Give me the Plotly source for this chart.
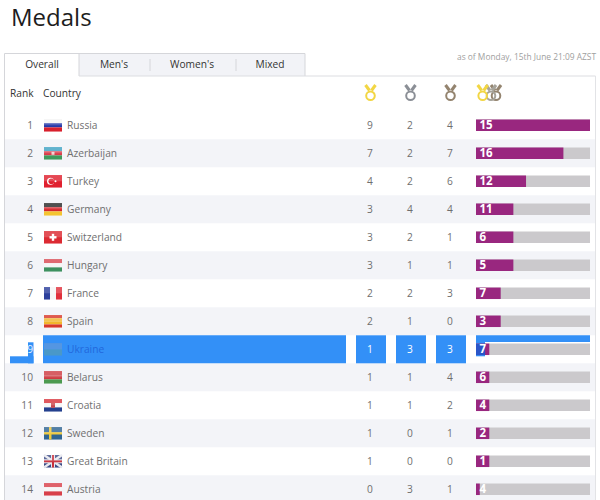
import plotly.graph_objects as go

# Table data
ranks = list(range(1, 15))
countries = ['Russia', 'Azerbaijan', 'Turkey', 'Germany', 'Switzerland', 'Hungary', 'France',
             'Spain', 'Ukraine', 'Belarus', 'Croatia', 'Sweden', 'Great Britain', 'Austria']
gold = [9, 7, 4, 3, 3, 3, 2, 2, 1, 1, 1, 1, 1, 0]
silver = [2, 2, 2, 4, 2, 1, 2, 1, 3, 1, 1, 0, 0, 3]
bronze = [4, 7, 6, 4, 1, 1, 3, 0, 3, 4, 2, 1, 0, 1]
totals = [15, 16, 12, 11, 6, 5, 7, 3, 7, 6, 4, 2, 1, 4]
bar_lengths = [9, 6.9, 3.95, 2.95, 2.95, 2.95, 1.95, 1.95, 1.05, 1.05, 1.05, 1.05, 1.05, 0.3]
bar_full = [9] * 14
selected_length = [0.72]
tabs = ['Overall', "Men's", "Women's", 'Mixed']

FONT = 'Open Sans'
TEXT = '#6f6f6f'
DARK = '#333333'
BLUE = '#3390f7'
PURPLE = '#99277f'
GREY = '#cbc9cc'
STRIPE = '#f3f4f8'
HILITE = 8  # index of the selected row
y9 = ranks[HILITE]

# flag: (direction, band colours)
flags = {
    'Russia': ('h', ['#f4f4f4', '#2438a8', '#d8202c']),
    'Azerbaijan': ('h', ['#3fa3c4', '#d93a48', '#3f9a5c']),
    'Turkey': ('h', ['#e0202e']),
    'Germany': ('h', ['#2a2a2a', '#d6242a', '#f4c430']),
    'Switzerland': ('h', ['#dc2a32']),
    'Hungary': ('h', ['#d84a54', '#f6f6f6', '#3d9160']),
    'France': ('v', ['#2c3f9c', '#f6f6f6', '#e0303c']),
    'Spain': ('h', ['#d8372a', '#f2b62c', '#f2b62c', '#d8372a']),
    'Ukraine': ('h', ['#2f7fdc', '#4a98c8']),
    'Belarus': ('h', ['#cf3b42', '#cf3b42', '#4c9a50']),
    'Croatia': ('h', ['#d8343c', '#f6f6f6', '#24408e']),
    'Sweden': ('h', ['#2f6593']),
    'Great Britain': ('h', ['#3a4a85']),
    'Austria': ('h', ['#d8404a', '#f6f6f6', '#d8404a']),
}

W, H = 600, 500
FLAG_X0, FLAG_W, FLAG_H = 44, 18, 12.5
ROW_PX = 28
ROW1_PX = 125.3
TEXT_DY = 1  # text sits a pixel lower than the row centre
shapes = []


# decoration is placed in page pixels, through paper refs so it stays under the bars
def rect(x0, x1, y0, y1, color, layer='below'):
    shapes.append(dict(type='rect', xref='paper', yref='paper', x0=x0 / W, x1=x1 / W,
                       y0=1 - y0 / H, y1=1 - y1 / H, fillcolor=color, line_width=0, layer=layer))


def line(x0, y0, x1, y1, color, width=1):
    shapes.append(dict(type='line', xref='paper', yref='paper', x0=x0 / W, x1=x1 / W,
                       y0=1 - y0 / H, y1=1 - y1 / H, line=dict(color=color, width=width), layer='below'))


def disc(x0, x1, y0, y1, fill, outline=None, width=0):
    shapes.append(dict(type='circle', xref='paper', yref='paper', x0=x0 / W, x1=x1 / W,
                       y0=1 - y0 / H, y1=1 - y1 / H, fillcolor=fill,
                       line=dict(color=outline or fill, width=width), layer='below'))


def row_px(r):
    return ROW1_PX + (r - 1) * ROW_PX


def px_rank(p):
    return 1 + (p - ROW1_PX) / ROW_PX


# row stripes and the selected row cells
for r in ranks:
    if r % 2 == 0 and r != y9:
        rect(5, 595, row_px(r) - 14, row_px(r) + 14, STRIPE)
top9, bot9 = row_px(y9) - 14, row_px(y9) + 14
for x0, x1 in [(43, 346), (356, 386), (396, 426), (436, 466)]:
    rect(x0, x1, top9, bot9, BLUE)
rect(28, 33.5, top9 + 7, bot9, BLUE)
rect(10, 33.5, bot9 - 7, bot9, BLUE)
rect(476, 590, top9, top9 + 6.7, BLUE)
rect(476, 485, top9 + 6.7, bot9 - 7, BLUE)

# table frame and tabs
rect(79, 305, 53.5, 76, '#f2f3f7')
line(4.5, 53.5, 305, 53.5, '#d5d6da')
line(305, 53.5, 305, 76, '#d5d6da')
line(4.5, 53.5, 4.5, 500, '#d5d6da')
line(79, 53.5, 79, 76, '#d5d6da')
line(79, 76, 595.5, 76, '#dcdde1')
line(595.5, 76, 595.5, 500, '#e2e3e6')
line(150, 59, 150, 71, '#d5d6da')
line(236, 59, 236, 71, '#d5d6da')

# flags
for r, name in zip(ranks, countries):
    kind, bands = flags[name]
    yc = row_px(r)
    top = yc - FLAG_H / 2
    bottom = yc + FLAG_H / 2
    xc = FLAG_X0 + FLAG_W / 2
    x_end = FLAG_X0 + FLAG_W
    for k, c in enumerate(bands):
        if kind == 'h':
            step = FLAG_H / len(bands)
            rect(FLAG_X0, x_end, top + k * step, top + (k + 1) * step, c)
        else:
            w = FLAG_W / len(bands)
            rect(FLAG_X0 + k * w, FLAG_X0 + (k + 1) * w, top, bottom, c)
    if name == 'Switzerland':
        rect(xc - 3.5, xc + 3.5, yc - 1.2, yc + 1.2, 'white')
        rect(xc - 1.2, xc + 1.2, yc - 3.5, yc + 3.5, 'white')
    if name == 'Sweden':
        rect(FLAG_X0, x_end, yc - 1.2, yc + 1.2, '#eec93a')
        rect(FLAG_X0 + 5, FLAG_X0 + 7.5, top, bottom, '#eec93a')
    if name == 'Great Britain':
        line(FLAG_X0, top, x_end, bottom, '#e8e8ee', 2.5)
        line(FLAG_X0, bottom, x_end, top, '#e8e8ee', 2.5)
        rect(FLAG_X0, x_end, yc - 2, yc + 2, '#e8e8ee')
        rect(xc - 2, xc + 2, top, bottom, '#e8e8ee')
        rect(FLAG_X0, x_end, yc - 1, yc + 1, '#c8303c')
        rect(xc - 1, xc + 1, top, bottom, '#c8303c')
    if name == 'Turkey':
        disc(xc - 6, xc + 1, yc - 3.5, yc + 3.5, 'white')
        disc(xc - 4.5, xc + 1.2, yc - 2.8, yc + 2.8, '#e0202e')
        disc(xc + 1.5, xc + 3.5, yc - 1, yc + 1, 'white')
    if name == 'Azerbaijan':
        rect(xc - 1.5, xc + 1.5, yc - 1.5, yc + 1.5, '#f3d0d0')
    if name == 'Croatia':
        rect(xc - 2, xc + 2, yc - 2.5, yc + 2.5, '#c8484e')
    # glossy top half
    rect(FLAG_X0, x_end, top, yc, 'rgba(255,255,255,0.18)')


# medal icons, centre in page pixels
def medal(xc, color):
    yc = 95.8
    rad = 4.3
    for dx0, dx1 in [(-5, -1), (5, 1)]:
        line(xc + dx0, 85, xc + dx1, 90.5, color, 3)
    disc(xc - rad, xc + rad, yc - rad, yc + rad, 'rgba(0,0,0,0)', color, 2)


medal(370.5, '#f2d644')
medal(410.5, '#8b8f96')
medal(450.5, '#94846f')
medal(496, '#94846f')
medal(491, '#a6a39a')
medal(482.7, '#f2d644')

fig = go.Figure()

# bars come first, on their own x axis so the gold count gives the length
fig.add_trace(go.Bar(x=bar_full, y=ranks, orientation='h', xaxis='x', yaxis='y', width=0.41,
                     marker=dict(color=GREY, line_width=0), hoverinfo='skip'))
fig.add_trace(go.Bar(x=bar_lengths, y=ranks, orientation='h', xaxis='x', yaxis='y', width=0.41,
                     marker=dict(color=PURPLE, line_width=0), hoverinfo='skip'))
# dark part of the selected row's bar
fig.add_trace(go.Bar(x=selected_length, y=[y9], orientation='h', xaxis='x', yaxis='y', width=0.41,
                     marker=dict(color='#2a55c8', line_width=0), hoverinfo='skip'))


def col(x, labels, rows=ranks, pos='middle center', color=TEXT, size=10.2, fam=FONT):
    fig.add_trace(go.Scatter(x=[x] * len(labels), y=[r + TEXT_DY / ROW_PX for r in rows], text=labels,
                             mode='text', textposition=pos, xaxis='x2', yaxis='y', cliponaxis=False,
                             textfont=dict(family=fam, size=size, color=color), hoverinfo='skip'))


keep = [i for i in range(14) if i != HILITE]
pick = lambda vals: [vals[i] for i in keep]
rows_k = pick(ranks)

col(33, [str(r) for r in pick(ranks)], rows_k, 'middle left')
col(33, [str(y9)], [y9], 'middle left', color='#e4f0fe')
col(67, pick(countries), rows_k, 'middle right')
col(67, [countries[HILITE]], [y9], 'middle right', color='#2268dc')
for x, vals in [(370, gold), (410, silver), (450, bronze)]:
    col(x, [str(v) for v in pick(vals)], rows_k)
    col(x, [str(vals[HILITE])], [y9], color='white')
col(479.5, ['<b>%d</b>' % t for t in totals], ranks, 'middle right', color='white', size=11.5)

# headers
col(10, ['Rank'], [px_rank(93.5)], 'middle right', color=DARK)
col(43, ['Country'], [px_rank(93.5)], 'middle right', color=DARK)
for x, t in zip([42, 114, 192, 270], tabs):
    col(x, [t], [px_rank(64)], color=DARK)
col(596, ['as of Monday, 15th June 21:09 AZST'], [px_rank(57)], 'middle left', color='#a0a0a0', size=8.4)
col(11, ['Medals'], [px_rank(18.5)], 'middle right', color='#1d1d1d', size=24)

fig.update_layout(
    width=W, height=H, autosize=False, showlegend=False, barmode='overlay',
    margin=dict(l=0, r=0, t=0, b=0), paper_bgcolor='white', plot_bgcolor='rgba(0,0,0,0)',
    xaxis=dict(range=[0, 9], domain=[476 / W, 590 / W], visible=False, fixedrange=True),
    xaxis2=dict(range=[0, W], domain=[0, 1], visible=False, fixedrange=True, anchor='y'),
    yaxis=dict(range=[px_rank(H), px_rank(0)], visible=False, fixedrange=True),
    shapes=shapes,
)
fig.write_html("out.html", config=dict(displayModeBar=False),
               post_script="document.body.style.margin='0';document.documentElement.style.overflow='hidden';")
